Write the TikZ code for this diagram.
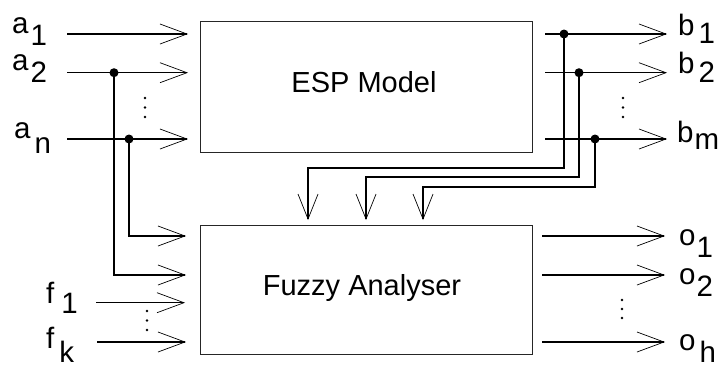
\documentclass[tikz,border=0pt]{standalone}
\usepackage{fontspec}
\setmainfont{Liberation Sans}
\usetikzlibrary{arrows.meta}
\tikzset{
  blk/.style={draw=black!85, line width=1pt, minimum width=332pt, inner sep=0pt},
  wire/.style={line width=1.1pt, black},
  arr/.style={wire, -{Straight Barb[length=27pt,width=20pt,line width=0.7pt]}},
  darr/.style={wire, -{Straight Barb[length=25pt,width=20pt,line width=0.7pt]}},
  lbl/.style={anchor=base west, inner sep=0pt, font=\fontsize{29.5}{34}\selectfont},
  title/.style={inner sep=0pt, font=\fontsize{29}{34}\selectfont},
  jdot/.style={circle, fill=black, inner sep=0pt, minimum size=9pt},
  ell/.style={fill=black},
}
\begin{document}
\begin{tikzpicture}[x=1pt,y=-1pt]
\useasboundingbox (0,0) rectangle (722,368);

% blocks
\node[blk, minimum height=131pt] (esp) at (366,86.5) {};
\node[blk, minimum height=129pt] (fuzzy) at (366,289.5) {};
\node[title] (esptext) at (364,82) {ESP Model};
\node[title, anchor=base] (fuzzytext) at (362,295) {Fuzzy Analyser};

% input labels
\node[lbl] (la1) at (12,33) {a\hspace{2pt}\raisebox{-12pt}{1}};
\node[lbl] (la2) at (12,70) {a\hspace{2pt}\raisebox{-12pt}{2}};
\node[lbl] (lan) at (14,138) {a\hspace{4pt}\raisebox{-15pt}{n}};
\node[lbl] (lf1) at (46,303) {f\hspace{7pt}\raisebox{-10pt}{1}};
\node[lbl] (lfk) at (46,348) {f\hspace{5pt}\raisebox{-14pt}{k}};
% output labels
\node[lbl] (lb1) at (678,35) {b\hspace{4pt}\raisebox{-8pt}{1}};
\node[lbl] (lb2) at (678,73) {b\hspace{4pt}\raisebox{-9pt}{2}};
\node[lbl] (lbm) at (677,142) {b\hspace{1pt}\raisebox{-7pt}{m}};
\node[lbl] (lo1) at (679,245) {o\hspace{1pt}\raisebox{-12pt}{1}};
\node[lbl] (lo2) at (679,284) {o\hspace{1pt}\raisebox{-12pt}{2}};
\node[lbl] (loh) at (679,350) {o\hspace{4pt}\raisebox{-12pt}{h}};

% wire end points
\coordinate (sa1) at (67,34);   \coordinate (ea1) at (188,34);
\coordinate (sa2) at (67,72.7); \coordinate (ea2) at (188,72.7);
\coordinate (san) at (67,139);  \coordinate (ean) at (188,139);
\coordinate (sf1) at (96,302.7); \coordinate (ef1) at (185,302.7);
\coordinate (sfk) at (97,342);   \coordinate (efk) at (186,342);
\coordinate (efn) at (186,236);  \coordinate (ef2) at (186,275);
\coordinate (sb1) at (545,34);   \coordinate (eb1) at (667,34);
\coordinate (sb2) at (545,72.7); \coordinate (eb2) at (667,72.7);
\coordinate (sbm) at (545,139);  \coordinate (ebm) at (667,139);
\coordinate (so1) at (542,236);  \coordinate (eo1) at (665,236);
\coordinate (so2) at (542,275);  \coordinate (eo2) at (665,275);
\coordinate (soh) at (542,342);  \coordinate (eoh) at (665,342);
\coordinate (t1) at (308,168);   \coordinate (d1) at (308,220);
\coordinate (t2) at (366,177);   \coordinate (d2) at (366,220);
\coordinate (t3) at (423,187);   \coordinate (d3) at (423,220);

% junctions
\node[jdot] (j2) at (114,72.7) {};
\node[jdot] (jn) at (129,139) {};
\node[jdot] (k1) at (564,34) {};
\node[jdot] (k2) at (579,72.7) {};
\node[jdot] (km) at (595,139) {};

% ESP inputs and outputs
\draw[arr] (sa1) -- (ea1);
\draw[arr] (sa2) -- (ea2);
\draw[arr] (san) -- (ean);
\draw[arr] (sb1) -- (eb1);
\draw[arr] (sb2) -- (eb2);
\draw[arr] (sbm) -- (ebm);

% fuzzy analyser inputs
\draw[arr] (jn.center) |- (efn);
\draw[arr] (j2.center) |- (ef2);
\draw[arr] (sf1) -- (ef1);
\draw[arr] (sfk) -- (efk);

% feedback of model outputs
\draw[darr] (k1.center) |- (t1) -- (d1);
\draw[darr] (k2.center) |- (t2) -- (d2);
\draw[darr] (km.center) |- (t3) -- (d3);

% fuzzy analyser outputs
\draw[arr] (so1) -- (eo1);
\draw[arr] (so2) -- (eo2);
\draw[arr] (soh) -- (eoh);

% ellipsis dots
\foreach \yy in {98,107.5,117} {
  \fill[ell] (145,\yy) circle (1.4pt);
  \fill[ell] (623,\yy) circle (1.4pt);
}
\foreach \yy in {311,320.5,330} \fill[ell] (147,\yy) circle (1.4pt);
\foreach \yy in {300,309,318} \fill[ell] (622,\yy) circle (1.4pt);
\end{tikzpicture}
\end{document}
